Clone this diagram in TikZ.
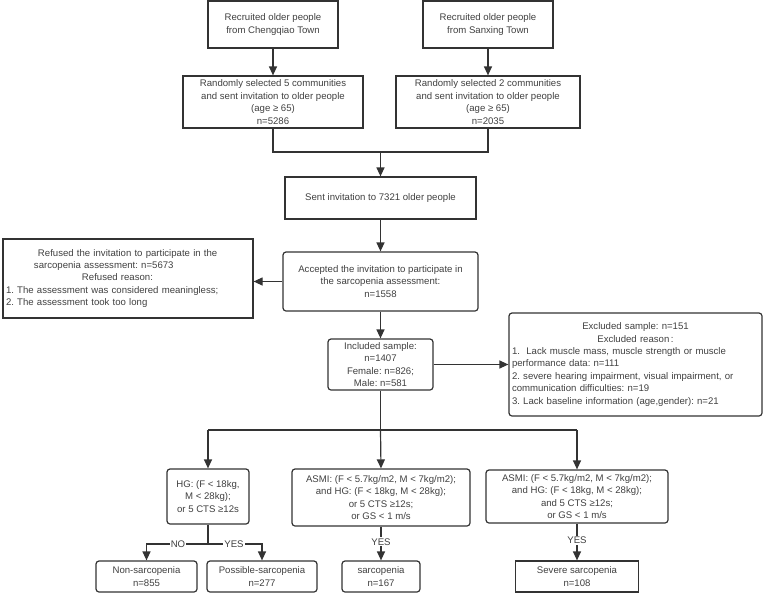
\documentclass[tikz,border=0pt]{standalone}
\usepackage{fontspec}
\setmainfont{Liberation Sans}
\usetikzlibrary{arrows.meta,calc}
\definecolor{linec}{HTML}{333333}
\definecolor{txtc}{HTML}{404040}
\newcommand{\fs}{\fontsize{9.6}{12.4}\selectfont}
\frenchspacing
\tikzset{
  box/.style={draw=linec, line width=1.2pt, text=txtc, font=\fs, align=center, inner sep=0pt},
  rbox/.style={box, rounded corners=3pt},
  arr/.style={draw=linec, line width=1.2pt, -{Triangle[length=9pt,width=8pt]}},
  ln/.style={draw=linec, line width=1.2pt},
  lbl/.style={fill=white, text=txtc, font=\fs, inner sep=1pt}
}
\begin{document}
\begin{tikzpicture}[x=1pt,y=-1pt]
\useasboundingbox (0,0) rectangle (764,595);
% top boxes
\node[box, minimum width=130pt, minimum height=47pt] (a1) at (273,24.5) {Recruited older people\\from Chengqiao Town};
\node[box, minimum width=130pt, minimum height=47pt] (a2) at (488,24.5) {Recruited older people\\from Sanxing Town};
\node[box, minimum width=180pt, minimum height=52pt] (b1) at (273,102) {Randomly selected 5 communities\\and sent invitation to older people\\(age ≥ 65)\\n=5286};
\node[box, minimum width=184pt, minimum height=52pt] (b2) at (488,102) {Randomly selected 2 communities\\and sent invitation to older people\\(age ≥ 65)\\n=2035};
\node[box, minimum width=191pt, minimum height=42pt] (c) at (380.5,198) {Sent invitation to 7321 older people};
\node[rbox, minimum width=195pt, minimum height=59pt] (d) at (380.5,281.5) {Accepted the invitation to participate in\\the sarcopenia assessment:\\n=1558};
\node[box, minimum width=250pt, minimum height=79pt, text width=244pt, align=left] (r) at (128,278.5) {\hspace*{32pt}Refused the invitation to participate in the\\\hspace*{28pt}sarcopenia assessment: n=5673\\\hspace*{76pt}Refused reason:\\1. The assessment was considered meaningless;\\2. The assessment took too long};
\node[rbox, minimum width=105pt, minimum height=51pt] (e) at (380.5,364.5) {Included sample:\\n=1407\\Female: n=826;\\Male: n=581};
\node[rbox, minimum width=253pt, minimum height=103pt, text width=247pt, align=left] (x) at (635.5,364.5) {\makebox[\linewidth][c]{Excluded sample: n=151}\\\makebox[\linewidth][c]{Excluded reason\,:}\\1.\ \ Lack muscle mass, muscle strength or muscle\\performance data: n=111\\2. severe hearing impairment, visual impairment, or\\communication difficulties: n=19\\3. Lack baseline information (age,gender): n=21};
\node[rbox, minimum width=82pt, minimum height=55pt] (f1) at (208,496.5) {HG: (F < 18kg,\\M < 28kg);\\or 5 CTS ≥12s};
\node[rbox, minimum width=178pt, minimum height=57pt] (f2) at (381,497.5) {ASMI: (F < 5.7kg/m2, M < 7kg/m2);\\and HG: (F < 18kg, M < 28kg);\\or 5 CTS ≥12s;\\or GS < 1 m/s};
\node[rbox, minimum width=182pt, minimum height=53pt] (f3) at (577,496.5) {ASMI: (F < 5.7kg/m2, M < 7kg/m2);\\and HG: (F < 18kg, M < 28kg);\\and 5 CTS ≥12s;\\or GS < 1 m/s};
\node[rbox, minimum width=101pt, minimum height=31pt] (g1) at (146.5,576.5) {Non-sarcopenia\\n=855};
\node[rbox, minimum width=110pt, minimum height=31pt] (g2) at (262,576.5) {Possible-sarcopenia\\n=277};
\node[rbox, minimum width=78pt, minimum height=31pt] (g3) at (381,576.5) {sarcopenia\\n=167};
\node[box, minimum width=123pt, minimum height=31pt] (g4) at (577,576.5) {Severe sarcopenia\\n=108};
% coordinates
\coordinate (m1) at (273,152);
\coordinate (m2) at (488,152);
\coordinate (m0) at (380.5,152);
\coordinate (s0) at (380.5,430);
\coordinate (s1) at (208,430);
\coordinate (s3) at (577,430);
\coordinate (h0) at (208,544);
\coordinate (h1) at (146.5,544);
\coordinate (h2) at (262,544);
% connectors
\draw[arr] (a1) -- (b1);
\draw[arr] (a2) -- (b2);
\draw[ln] (b1.south) -- (m1) -- (m2) -- (b2.south);
\draw[arr] (m0) -- (c.north);
\draw[arr] (c) -- (d);
\draw[arr] (d.west) -- (d.west -| r.east);
\draw[arr] (d) -- (e);
\draw[arr] (e.east) -- (e.east -| x.west);
\draw[ln] (e.south) -- (s0);
\draw[ln] (s1) -- (s3);
\draw[arr] (s1) -- (f1.north);
\draw[arr] (s0) -- (f2.north);
\draw[arr] (s3) -- (f3.north);
\draw[ln] (f1.south) -- (h0);
\draw[arr] (h0) -- (h1) -- (g1.north);
\draw[arr] (h0) -- (h2) -- (g2.north);
\node[lbl] (no) at (178,544) {NO};
\node[lbl] (yes1) at (234,544) {YES};
\draw[arr] (f2.south) -- (g3.north) node[lbl, pos=0.45] (yes2) {YES};
\draw[arr] (f3.south) -- (g4.north) node[lbl, pos=0.45] (yes3) {YES};
\end{tikzpicture}
\end{document}
